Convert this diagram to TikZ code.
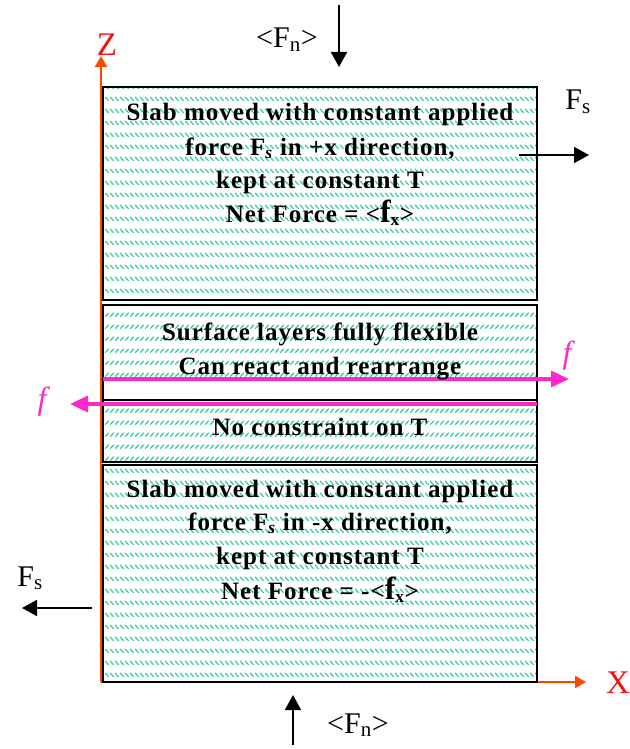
\documentclass[tikz,border=0pt]{standalone}
\usepackage{fontspec}
\setmainfont{Liberation Serif}
\usepackage{tikz}
\usetikzlibrary{arrows.meta,patterns}

\definecolor{hatchgreen}{RGB}{40,200,160}
\definecolor{axisred}{RGB}{255,69,0}
\definecolor{labelred}{RGB}{240,20,20}
\definecolor{shearpink}{RGB}{255,40,200}

% slab hatching: rows of short diagonal strokes
\pgfdeclarepatternformonly{backhatch}{\pgfpointorigin}{\pgfpoint{5pt}{12pt}}{\pgfpoint{5pt}{12pt}}{%
  \pgfsetlinewidth{1.3pt}%
  \pgfpathmoveto{\pgfpoint{0pt}{4.5pt}}\pgfpathlineto{\pgfpoint{4.5pt}{0pt}}\pgfusepath{stroke}}
\pgfdeclarepatternformonly{fwdhatch}{\pgfpointorigin}{\pgfpoint{5pt}{12pt}}{\pgfpoint{5pt}{12pt}}{%
  \pgfsetlinewidth{1.3pt}%
  \pgfpathmoveto{\pgfpoint{0pt}{0pt}}\pgfpathlineto{\pgfpoint{4.5pt}{4.5pt}}\pgfusepath{stroke}}

\newcommand{\meanfx}{{\fontsize{32}{32}\selectfont f}\textsubscript{x}}

\begin{document}
\begin{tikzpicture}[x=1pt, y=-1pt, every node/.style={inner sep=0pt},
  slabtext/.style={anchor=base, font=\fontsize{25}{30}\selectfont\bfseries\addfontfeature{LetterSpace=4}},
  forcelabel/.style={anchor=base, font=\fontsize{30}{34}\selectfont},
  axislabel/.style={font=\fontsize{33}{36}\selectfont, text=labelred},
  flabel/.style={font=\fontsize{32}{32}\selectfont\itshape, text=shearpink},
  pushline/.style={line width=1.8pt, -{Triangle[length=15pt,width=16pt]}},
  shearline/.style={draw=shearpink, line width=3.3pt, -{Triangle[length=18pt,width=16pt]}},
  axisline/.style={draw=axisred, line width=2pt, -{Triangle[length=11pt,width=12pt]}},
  slabedge/.style={line width=2.5pt}]
  \useasboundingbox (0,0) rectangle (629,749);
  \coordinate (topNW) at (103,87);
  \coordinate (topSE) at (537,300);
  \coordinate (midNW) at (103,305);
  \coordinate (midSE) at (537,462);
  \coordinate (botNW) at (103,465);
  \coordinate (botSE) at (537,682);
  % hatching
  \fill[pattern=backhatch, pattern color=hatchgreen] (topNW) rectangle (topSE);
  \fill[pattern=fwdhatch, pattern color=hatchgreen] (midNW) rectangle (537,378);
  \fill[pattern=fwdhatch, pattern color=hatchgreen] (103,403) rectangle (midSE);
  \fill[pattern=backhatch, pattern color=hatchgreen] (botNW) rectangle (botSE);
  % axes
  \coordinate (origin) at (101,682);
  \coordinate (zEnd) at (101,56);
  \coordinate (xEnd) at (586,682);
  \draw[axisline] (origin) -- (zEnd);
  \draw[axisline] (origin) -- (xEnd);
  \node[axislabel, anchor=base] (zLabel) at (107,56) {Z};
  \node[axislabel] (xLabel) at (618,683) {X};
  % slabs
  \draw[slabedge] (topNW) rectangle (topSE);
  \draw[slabedge] (midNW) rectangle (midSE);
  \draw[slabedge] (103,400) -- (537,400);
  \draw[slabedge] (botNW) rectangle (botSE);
  % surface forces
  \coordinate (fR0) at (103,379);
  \coordinate (fR1) at (569,379);
  \coordinate (fL0) at (537,404);
  \coordinate (fL1) at (70,404);
  \draw[shearline] (fR0) -- (fR1);
  \draw[shearline] (fL0) -- (fL1);
  \node[flabel] (fRight) at (567,356) {f};
  \node[flabel] (fLeft) at (42,402) {f};
  % applied forces
  \coordinate (fnTop0) at (339,5);
  \coordinate (fnTop1) at (339,67);
  \draw[pushline] (fnTop0) -- (fnTop1);
  \node[forcelabel] (fnTop) at (287,48) {<F\textsubscript{n}>};
  \coordinate (fsTop0) at (519,155);
  \coordinate (fsTop1) at (589,155);
  \draw[pushline] (fsTop0) -- (fsTop1);
  \node[forcelabel] (fsTop) at (578,110) {F\textsubscript{s}};
  \coordinate (fsBot0) at (92,608);
  \coordinate (fsBot1) at (22,608);
  \draw[pushline] (fsBot0) -- (fsBot1);
  \node[forcelabel] (fsBot) at (30,586) {F\textsubscript{s}};
  \coordinate (fnBot0) at (293,745);
  \coordinate (fnBot1) at (293,695);
  \draw[pushline] (fnBot0) -- (fnBot1);
  \node[forcelabel] (fnBot) at (358,733) {<F\textsubscript{n}>};
  % slab texts
  \node[slabtext] (topL1) at (320,121) {Slab moved with constant applied};
  \node[slabtext] (topL2) at (320,155) {force F\textsubscript{\itshape s} in +x direction,};
  \node[slabtext] (topL3) at (320,188) {kept at constant T};
  \node[slabtext] (topL4) at (320,222) {Net Force = <\meanfx>};
  \node[slabtext] (midL1) at (320,340) {Surface layers fully flexible};
  \node[slabtext] (midL2) at (320,374) {Can react and rearrange};
  \node[slabtext] (midL3) at (320,435) {No constraint on T};
  \node[slabtext] (botL1) at (320,497) {Slab moved with constant applied};
  \node[slabtext] (botL2) at (320,530) {force F\textsubscript{\itshape s} in -x direction,};
  \node[slabtext] (botL3) at (320,564) {kept at constant T};
  \node[slabtext] (botL4) at (320,599) {Net Force = -<\meanfx>};
\end{tikzpicture}
\end{document}
